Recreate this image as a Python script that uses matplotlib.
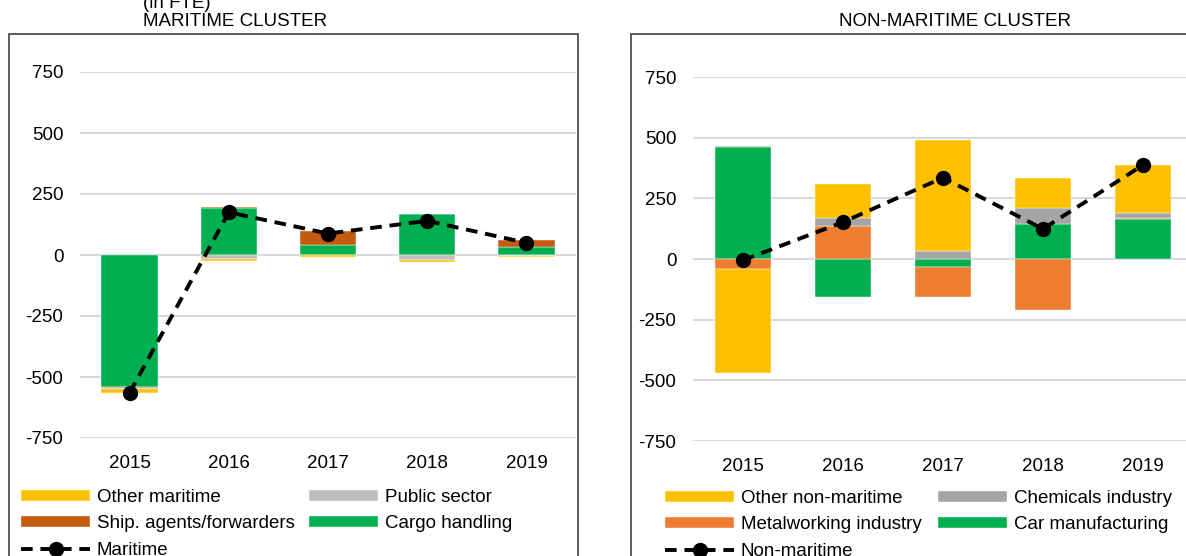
import numpy as np
import matplotlib.pyplot as plt
from matplotlib.patches import Rectangle
from matplotlib.lines import Line2D

plt.rcParams['font.family'] = ['Liberation Sans', 'DejaVu Sans']
plt.rcParams['axes.unicode_minus'] = False

years = ['2015', '2016', '2017', '2018', '2019']

# maritime cluster (FTE change), stacking order from zero outward
mar_labels = ['Cargo handling', 'Ship. agents/forwarders', 'Public sector', 'Other maritime']
cargo_handling = [-540, 191, 40, 167, 32]
ship_agents = [-5, 7, 57, 0, 28]
public_sector = [-5, -18, -2, -20, -4]
other_maritime = [-15, -5, -7, -7, -6]

# non-maritime cluster
non_labels = ['Car manufacturing', 'Metalworking industry', 'Chemicals industry', 'Other non-maritime']
car_manufacturing = [462, -158, -33, 145, 164]
metalworking = [-41, 136, -122, -210, 3]
chemicals = [2, 34, 33, 66, 24]
other_non_maritime = [-428, 140, 457, 123, 196]

mar_colors = ['#00B050', '#C55A11', '#BFBFBF', '#FFC000']
non_colors = ['#00B050', '#ED7D31', '#A5A5A5', '#FFC000']

W, H = 1186, 556
FS = 13.5
fig = plt.figure(figsize=(W / 100, H / 100), dpi=100)


def px(x0, y0, x1, y1):
    # pixel box -> figure fraction [left, bottom, width, height]
    return [x0 / W, 1 - y1 / H, (x1 - x0) / W, (y1 - y0) / H]


def stacked(ax, series, colors, labels, width):
    x = np.arange(len(years))
    pos = np.zeros(len(years))
    neg = np.zeros(len(years))
    handles = {}
    for vals, c, lab in zip(series, colors, labels):
        v = np.array(vals, dtype=float)
        bottom = np.where(v >= 0, pos, neg)
        b = ax.bar(x, v, width, bottom=bottom, color=c, label=lab, zorder=2,
                   edgecolor='white', linewidth=0.3)
        handles[lab] = b
        pos += np.where(v >= 0, v, 0)
        neg += np.where(v < 0, v, 0)
    total = np.array(series).sum(axis=0)
    ln, = ax.plot(x, total, color='black', lw=2.8, ls=(0, (3, 2)),
                  marker='o', markersize=10, zorder=3)
    return handles, ln


def style(ax):
    ax.set_ylim(-750, 750)
    ax.set_xlim(-0.5, 4.5)
    ax.set_yticks([-750, -500, -250, 0, 250, 500, 750])
    ax.set_xticks(range(5))
    ax.set_xticklabels(years)
    ax.grid(axis='y', color='#D9D9D9', lw=1.5, zorder=0)
    ax.set_axisbelow(True)
    for s in ax.spines.values():
        s.set_visible(False)
    ax.tick_params(axis='y', length=0, pad=12, labelsize=FS, colors='black')
    ax.tick_params(axis='x', length=0, pad=12, labelsize=FS, colors='black')


# outer chart frames
fig.patches.append(Rectangle((9 / W, -0.05), (578 - 9) / W, 1.05 - 34 / H,
                             transform=fig.transFigure, fill=False,
                             edgecolor='#404040', lw=1.2))
fig.patches.append(Rectangle((631 / W, -0.05), 1.0, 1.05 - 34 / H,
                             transform=fig.transFigure, fill=False,
                             edgecolor='#404040', lw=1.2))

# left panel: maritime
ax1 = fig.add_axes(px(80, 72, 576, 438))
h1, l1 = stacked(ax1, [cargo_handling, ship_agents, public_sector, other_maritime],
                 mar_colors, mar_labels, 0.57)
style(ax1)

# right panel: non-maritime
ax2 = fig.add_axes(px(693, 77, 1193, 441))
h2, l2 = stacked(ax2, [car_manufacturing, metalworking, chemicals, other_non_maritime],
                 non_colors, non_labels, 0.56)
style(ax2)

fig.text(143 / W, 1 - 4 / H, '(in FTE)', fontsize=FS, va='center', ha='left')
fig.text(143 / W, 1 - 22 / H, 'MARITIME CLUSTER', fontsize=FS, va='center', ha='left')
fig.text(955 / W, 1 - 22 / H, 'NON-MARITIME CLUSTER', fontsize=FS, va='center', ha='center')

# legends (column-major: 3 entries in first column, 2 in second)
mar_line = Line2D([], [], color='black', lw=2.8, ls=(0, (3, 2)), marker='o', markersize=10)
leg1 = fig.legend([h1['Other maritime'], h1['Ship. agents/forwarders'], mar_line,
                   h1['Public sector'], h1['Cargo handling']],
                  ['Other maritime', 'Ship. agents/forwarders', 'Maritime',
                   'Public sector', 'Cargo handling'],
                  ncol=2, loc='upper left', bbox_to_anchor=(21 / W, 1 - 489 / H),
                  frameon=False, fontsize=FS, handlelength=3.7, handleheight=0.55,
                  handletextpad=0.35, labelspacing=0.5, columnspacing=0.75,
                  borderpad=0, borderaxespad=0)

non_line = Line2D([], [], color='black', lw=2.8, ls=(0, (3, 2)), marker='o', markersize=10)
leg2 = fig.legend([h2['Other non-maritime'], h2['Metalworking industry'], non_line,
                   h2['Chemicals industry'], h2['Car manufacturing']],
                  ['Other non-maritime', 'Metalworking industry', 'Non-maritime',
                   'Chemicals industry', 'Car manufacturing'],
                  ncol=2, loc='upper left', bbox_to_anchor=(665 / W, 1 - 490 / H),
                  frameon=False, fontsize=FS, handlelength=3.7, handleheight=0.55,
                  handletextpad=0.35, labelspacing=0.5, columnspacing=0.85,
                  borderpad=0, borderaxespad=0)

fig.savefig('out.png', dpi=100)
